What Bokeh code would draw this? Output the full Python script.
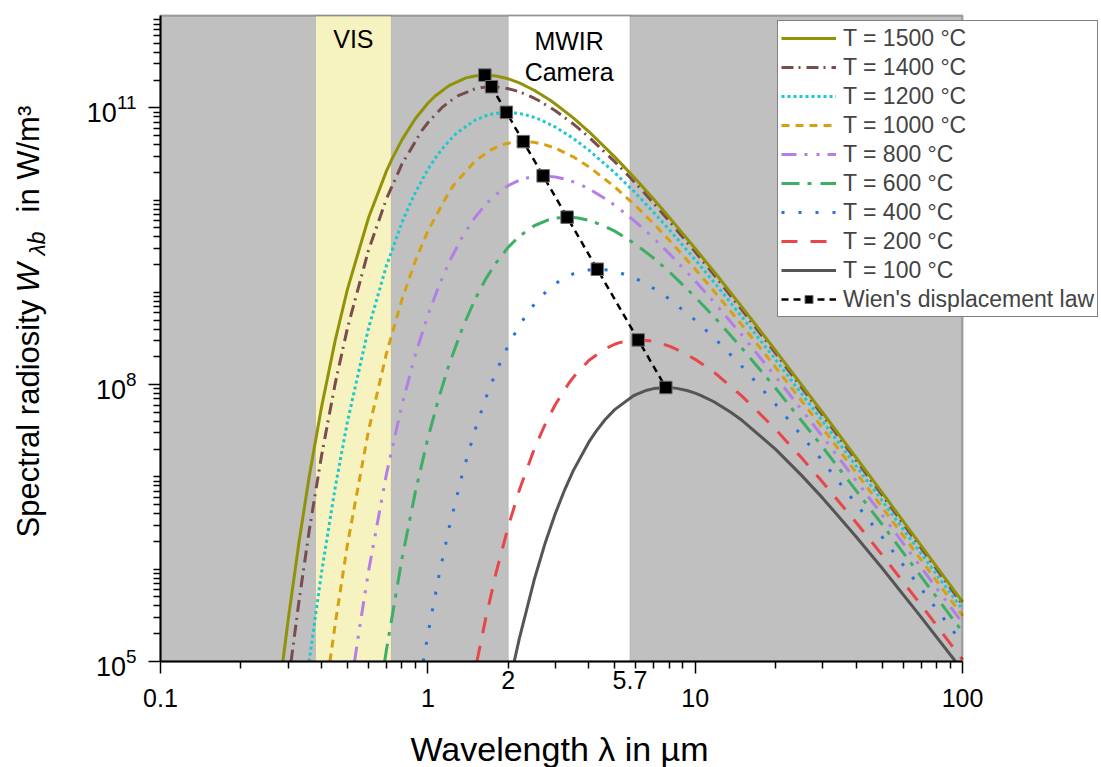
import math
from bokeh.plotting import figure
from bokeh.models import (FixedTicker, LogTickFormatter, Label, BoxAnnotation,
                          Legend, LegendItem, Range1d)
from bokeh.embed import file_html
from bokeh.resources import INLINE

FONT = "Liberation Sans"

# ---------------- data (wavelength in µm, W in W/m^3) ----------------
lam_1500 = [0.2869, 0.3, 0.33, 0.36, 0.4, 0.45, 0.5, 0.6, 0.7, 0.7354, 0.8, 0.8988, 1.0, 1.0623, 1.2, 1.3891,
            1.5, 1.634, 1.8, 2.0, 2.2, 2.5, 2.8599, 3, 3.5, 4, 5, 6, 7, 8, 10, 12, 15, 20, 30, 50, 100]
w_1500 = [1.0e5, 2.76e5, 2.00e6, 1.01e7, 5.66e7, 2.99e8, 1.07e9, 6.44e9, 2.06e10, 2.81e10, 4.49e10, 7.66e10,
          1.12e11, 1.333e11, 1.74e11, 2.108e11, 2.21e11, 2.26e11, 2.21e11, 2.06e11, 1.86e11, 1.55e11,
          1.217e11, 1.10e11, 7.78e10, 5.53e10, 2.94e10, 1.68e10, 1.02e10, 6.50e9, 2.99e9, 1.56e9, 6.87e8,
          2.34e8, 4.96e7, 6.80e6, 4.43e5]

lam_1400 = [0.3079, 0.33, 0.36, 0.4, 0.45, 0.5, 0.6, 0.7, 0.8, 0.9526, 1.0, 1.1258, 1.2, 1.2989, 1.5, 1.5934,
            1.732, 1.8, 1.9051, 2.0, 2.0783, 2.2, 2.3381, 2.5, 2.5979, 3, 3.5, 4, 5, 6, 7, 8, 10, 12, 15,
            20, 30, 50, 100]
w_1400 = [1.0e5, 4.60e5, 2.62e6, 1.68e7, 1.02e8, 4.06e8, 2.87e9, 1.03e10, 2.45e10, 5.73e10, 6.89e10, 9.97e10,
          1.16e11, 1.351e11, 1.60e11, 1.658e11, 1.69e11, 1.68e11, 1.652e11, 1.61e11, 1.565e11, 1.49e11,
          1.389e11, 1.27e11, 1.198e11, 9.29e10, 6.68e10, 4.82e10, 2.61e10, 1.51e10, 9.22e9, 5.92e9, 2.75e9,
          1.44e9, 6.37e8, 2.18e8, 4.64e7, 6.38e6, 4.17e5]

lam_1200 = [0.3597, 0.4, 0.45, 0.5, 0.6, 0.7, 0.8, 0.8852, 1.0, 1.0819, 1.2, 1.2786, 1.5, 1.672, 1.8, 1.967,
            2.0, 2.2, 2.3605, 2.5, 2.6555, 3, 3.5, 4, 5, 6, 7, 8, 10, 12, 15, 20, 30, 50, 100]
w_1200 = [1.0e5, 9.09e5, 7.61e6, 3.93e7, 4.10e8, 1.94e9, 5.70e9, 1.112e10, 2.15e10, 3.031e10, 4.39e10,
          5.275e10, 7.34e10, 8.343e10, 8.75e10, 8.93e10, 8.92e10, 8.67e10, 8.282e10, 7.86e10, 7.348e10,
          6.18e10, 4.66e10, 3.48e10, 1.98e10, 1.18e10, 7.33e9, 4.78e9, 2.26e9, 1.20e9, 5.37e8, 1.86e8,
          4.00e7, 5.55e6, 3.65e5]

lam_1000 = [0.4304, 0.45, 0.5, 0.6, 0.7, 0.8, 0.9, 1.0, 1.2, 1.2518, 1.5, 1.7071, 1.8, 1.9347, 2.0, 2.094,
            2.2, 2.276, 2.5, 2.7313, 3, 3.5, 4, 5, 6, 7, 8, 10, 12, 15, 20, 30, 50, 100]
w_1000 = [1.0e5, 2.51e5, 1.83e6, 3.18e7, 2.17e8, 8.37e8, 2.23e9, 4.62e9, 1.22e10, 1.461e10, 2.64e10,
          3.445e10, 3.72e10, 4.021e10, 4.13e10, 4.229e10, 4.29e10, 4.30e10, 4.22e10, 3.992e10, 3.65e10,
          2.94e10, 2.30e10, 1.39e10, 8.63e9, 5.53e9, 3.68e9, 1.79e9, 9.61e8, 4.38e8, 1.54e8, 3.37e7,
          4.72e6, 3.13e5]

lam_800 = [0.5321, 0.55, 0.6, 0.7, 0.8, 0.9, 1.0, 1.1, 1.2, 1.35, 1.5, 1.65, 1.8, 2.0, 2.2, 2.2952, 2.5, 2.7,
           3, 3.2403, 3.5, 3.6453, 4, 4.7254, 5, 6, 7, 8, 10, 12, 15, 20, 30, 50, 100]
w_800 = [1.0e5, 1.93e5, 9.50e5, 1.07e7, 6.01e7, 2.15e8, 5.63e8, 1.18e9, 2.11e9, 4.06e9, 6.47e9, 9.06e9,
         1.15e10, 1.44e10, 1.64e10, 1.712e10, 1.80e10, 1.83e10, 1.78e10, 1.700e10, 1.58e10, 1.508e10,
         1.33e10, 9.89e9, 8.80e9, 5.77e9, 3.85e9, 2.63e9, 1.33e9, 7.31e8, 3.41e8, 1.22e8, 2.73e7, 3.89e6,
         2.61e5]

lam_600 = [0.6894, 0.7, 0.8, 0.9, 1.0, 1.1, 1.2, 1.35, 1.5, 1.65, 1.8, 2.0, 2.2, 2.5, 2.8209, 3, 3.319, 3.5,
           3.6506, 4, 4.4803, 5, 5.8078, 6, 7, 8, 10, 12, 15, 20, 30, 50, 100]
w_600 = [1.0e5, 1.33e5, 1.29e6, 7.09e6, 2.61e7, 7.25e7, 1.64e8, 4.17e8, 8.35e8, 1.41e9, 2.09e9, 3.09e9,
         4.06e9, 5.27e9, 6.10e9, 6.37e9, 6.53e9, 6.49e9, 6.39e9, 6.04e9, 5.37e9, 4.61e9, 3.52e9, 3.30e9,
         2.34e9, 1.67e9, 8.92e8, 5.10e8, 2.46e8, 9.14e7, 2.10e7, 3.07e6, 2.09e5]

lam_400 = [0.961, 1.0, 1.1, 1.2, 1.35, 1.5, 1.65, 1.8, 2.0, 2.2, 2.3676, 2.5, 2.7981, 3, 3.2286, 3.5, 3.6591,
           4, 4.305, 4.7353, 5, 5.1657, 5.8115, 6, 6.4572, 7, 7.5334, 8, 10, 12, 15, 20, 30, 50, 100]
w_400 = [1.0e5, 1.95e5, 8.46e5, 2.77e6, 1.11e7, 3.19e7, 7.24e7, 1.38e8, 2.67e8, 4.38e8, 6.04e8, 7.42e8,
         1.051e9, 1.24e9, 1.424e9, 1.59e9, 1.662e9, 1.75e9, 1.78e9, 1.741e9, 1.69e9, 1.650e9, 1.463e9,
         1.41e9, 1.263e9, 1.10e9, 9.60e8, 8.48e8, 5.00e8, 3.05e8, 1.56e8, 6.12e7, 1.48e7, 2.24e6, 1.57e5]

lam_200 = [1.526, 1.65, 1.8, 2.0, 2.2, 2.5, 2.756, 3, 3.3684, 3.5, 4, 4.5933, 5, 5.2058, 5.6345, 6, 6.124,
           6.7369, 7, 7.3493, 8, 8.268, 9.1866, 10, 10.7177, 12, 15, 20, 25, 30, 40, 50, 70, 100]
w_200 = [1.0e5, 3.03e5, 9.12e5, 2.92e6, 7.21e6, 2.00e7, 3.80e7, 6.10e7, 1.036e8, 1.20e8, 1.83e8, 2.443e8,
         2.74e8, 2.851e8, 2.999e8, 3.05e8, 3.051e8, 2.987e8, 2.93e8, 2.831e8, 2.61e8, 2.511e8, 2.167e8,
         1.88e8, 1.647e8, 1.30e8, 7.47e7, 3.27e7, 1.61e7, 8.77e6, 3.21e6, 1.43e6, 4.09e5, 1.05e5]

lam_100 = [2.1043, 2.2, 2.5, 2.75, 3, 3.25, 3.5, 4, 4.2711, 4.6, 5, 5.8243, 6, 6.6008, 7, 7.766, 8, 8.5423,
           9.3188, 10, 10.4837, 11.6486, 12, 13.59, 15, 20, 25, 30, 40, 50, 70, 94.2]
w_100 = [1.0e5, 1.78e5, 7.68e5, 1.94e6, 4.03e6, 7.26e6, 1.17e7, 2.38e7, 3.16e7, 4.16e7, 5.36e7, 7.45e7,
         7.80e7, 8.70e7, 9.06e7, 9.31e7, 9.29e7, 9.11e7, 8.64e7, 8.09e7, 7.66e7, 6.61e7, 6.30e7, 5.02e7,
         4.08e7, 1.99e7, 1.04e7, 5.89e6, 2.25e6, 1.03e6, 3.03e5, 1.0e5]

# Wien's displacement law: peak positions
wien_lam = [1.634, 1.732, 1.967, 2.276, 2.700, 3.319, 4.305, 6.124, 7.766]
wien_w = [2.26e11, 1.69e11, 8.93e10, 4.30e10, 1.83e10, 6.53e9, 1.78e9, 3.05e8, 9.31e7]

series_labels = ["T = 1500 °C", "T = 1400 °C", "T = 1200 °C", "T = 1000 °C", "T = 800 °C",
                 "T = 600 °C", "T = 400 °C", "T = 200 °C", "T = 100 °C"]
wien_label = "Wien's displacement law"

x_tick_values = [0.1, 1, 10, 100]
x_tick_labels = ["0.1", "1", "10", "100"]
y_tick_values = [1e5, 1e8, 1e11]
x_lim = (0.1, 100)
y_lim = (1e5, 1e12)

vis_band = (0.38, 0.73)
mwir_band = (2.0, 5.7)
extra_x_labels = [2, 5.7]

# ---------------- layout (pixels) ----------------
W, H = 1101, 767
X0, X1, Y0, Y1 = 160, 962, 15, 661     # plot box in pixels
XPD = (X1 - X0) / 3.0                   # px per decade (x)
YPD = (Y1 - Y0) / 7.0                   # px per decade (y)


def xd(px):
    return 10 ** (-1 + (px - X0) / XPD)


def yd(py):
    return 10 ** (5 + (Y1 - py) / YPD)


p = figure(width=W, height=H, x_axis_type="log", y_axis_type="log",
           x_range=Range1d(xd(0), xd(W)), y_range=Range1d(yd(H), yd(0)),
           output_backend="svg", toolbar_location=None, tools="", title=None,
           min_border=0, min_border_left=0, min_border_right=0, min_border_top=0, min_border_bottom=0)
p.background_fill_color = "white"
p.border_fill_color = "white"
p.outline_line_color = None
p.grid.visible = False

# plot-area background and bands
p.add_layout(BoxAnnotation(left=x_lim[0], right=x_lim[1], bottom=y_lim[0], top=y_lim[1],
                           fill_color="#c0c0c0", fill_alpha=1, line_alpha=0, level="underlay"))
p.add_layout(BoxAnnotation(left=vis_band[0], right=vis_band[1], bottom=y_lim[0], top=y_lim[1],
                           fill_color="#f7f3c1", fill_alpha=1, line_color="#8c8c8c", line_width=1,
                           level="underlay"))
p.add_layout(BoxAnnotation(left=mwir_band[0], right=mwir_band[1], bottom=y_lim[0], top=y_lim[1],
                           fill_color="#ffffff", fill_alpha=1, line_color="#8c8c8c", line_width=1,
                           level="underlay"))

# curves (drawn coolest first so the hottest lies on top)
styles = [
    (lam_1500, w_1500, "#929208", "solid"),
    (lam_1400, w_1400, "#7a4c4c", "12 5 2 6"),
    (lam_1200, w_1200, "#1ec8cf", "3 3"),
    (lam_1000, w_1000, "#d6a012", "8 6"),
    (lam_800, w_800, "#b27fe6", "15 8 3 9 3 8"),
    (lam_600, w_600, "#3dae66", "18 8 4 9"),
    (lam_400, w_400, "#2773dc", "3 14"),
    (lam_200, w_200, "#e8464a", "16 13"),
    (lam_100, w_100, "#555555", "solid"),
]
renderers = [None] * len(styles)
for i in reversed(range(len(styles))):
    lam, w, col, dash = styles[i]
    renderers[i] = p.line(lam, w, line_color=col, line_width=3, line_dash=dash)

wl = p.line(wien_lam, wien_w, line_color="black", line_width=2.5, line_dash="7 5")
ws = p.scatter(wien_lam, wien_w, marker="square", size=12.5, fill_color="black",
               line_color="#6e6e6e", line_width=1)

# plot box border
p.add_layout(BoxAnnotation(left=x_lim[0], right=x_lim[1], bottom=y_lim[0], top=y_lim[1],
                           fill_alpha=0, line_color="black", line_width=2))

# legend
items = [LegendItem(label=lab, renderers=[r]) for lab, r in zip(series_labels, renderers)]
items.append(LegendItem(label=wien_label, renderers=[wl, ws]))
legend = Legend(items=items, location=(777, H - 317),
                label_text_font=FONT, label_text_font_size="23px",
                glyph_width=55, glyph_height=20, label_height=28, label_standoff=7,
                padding=3, spacing=1, margin=0,
                border_line_color="black", border_line_width=1,
                background_fill_color="white", background_fill_alpha=1)
p.add_layout(legend)

# axes (library axes, pinned to the plot box)
xa = p.xaxis[0]
xa.fixed_location = y_lim[0]
xa.bounds = x_lim
xa.ticker = FixedTicker(ticks=x_tick_values,
                        minor_ticks=[k * 10.0 ** n for n in (-1, 0, 1) for k in range(2, 10)])
xa.major_label_overrides = dict(zip(x_tick_values, x_tick_labels))
ya = p.yaxis[0]
ya.fixed_location = x_lim[0]
ya.bounds = y_lim
ya.ticker = FixedTicker(ticks=y_tick_values,
                        minor_ticks=[k * 10.0 ** n for n in range(5, 12) for k in range(1, 10)
                                     if not (k == 1 and n in (5, 8, 11))])
ya.formatter = LogTickFormatter()
for ax in (xa, ya):
    ax.axis_line_color = "black"
    ax.axis_line_width = 2
    ax.major_tick_line_color = "black"
    ax.minor_tick_line_color = "black"
    ax.major_tick_line_width = 1.5
    ax.minor_tick_line_width = 1.5
    ax.major_tick_in = 0
    ax.minor_tick_in = 0
    ax.major_tick_out = 12
    ax.minor_tick_out = 7
    ax.major_label_text_font = FONT
    ax.major_label_text_color = "black"
xa.major_label_text_font_size = "25px"
ya.major_label_text_font_size = "27px"
xa.major_label_standoff = 15
ya.major_label_standoff = 12

# x axis title
p.add_layout(Label(x=xd(559), y=yd(748), text="Wavelength λ in µm", text_align="center",
                   text_baseline="middle", text_font=FONT, text_font_size="34px", text_color="black"))

# y axis title built from pieces (italic W with subscript λb); start positions in px along the text
bx = 28
pieces = [
    ("Spectral radiosity", 537, bx, 31, "normal"),
    ("W", 292, bx, 31, "italic"),
    ("λb", 255, bx + 8, 23, "italic"),
    ("in W/m³", 212, bx, 31, "normal"),
]
for txt, py, px, fs, style in pieces:
    p.add_layout(Label(x=xd(px), y=yd(py), text=txt, angle=math.pi / 2,
                       text_align="left", text_baseline="alphabetic",
                       text_font=FONT, text_font_size=f"{fs}px", text_font_style=style,
                       text_color="black"))

# band titles
for txt, xv, py in [("VIS", math.sqrt(vis_band[0] * vis_band[1]), 38),
                    ("MWIR", math.sqrt(mwir_band[0] * mwir_band[1]), 40),
                    ("Camera", math.sqrt(mwir_band[0] * mwir_band[1]), 71)]:
    p.add_layout(Label(x=xv, y=yd(py), text=txt, text_align="center", text_baseline="middle",
                       text_font=FONT, text_font_size="25px", text_color="black"))

# extra x labels 2 and 5.7
for xv in extra_x_labels:
    p.add_layout(Label(x=xv, y=yd(679), text=f"{xv:g}", text_align="center", text_baseline="middle",
                       text_font=FONT, text_font_size="25px", text_color="black"))

open("out.html", "w").write(file_html(p, INLINE))
